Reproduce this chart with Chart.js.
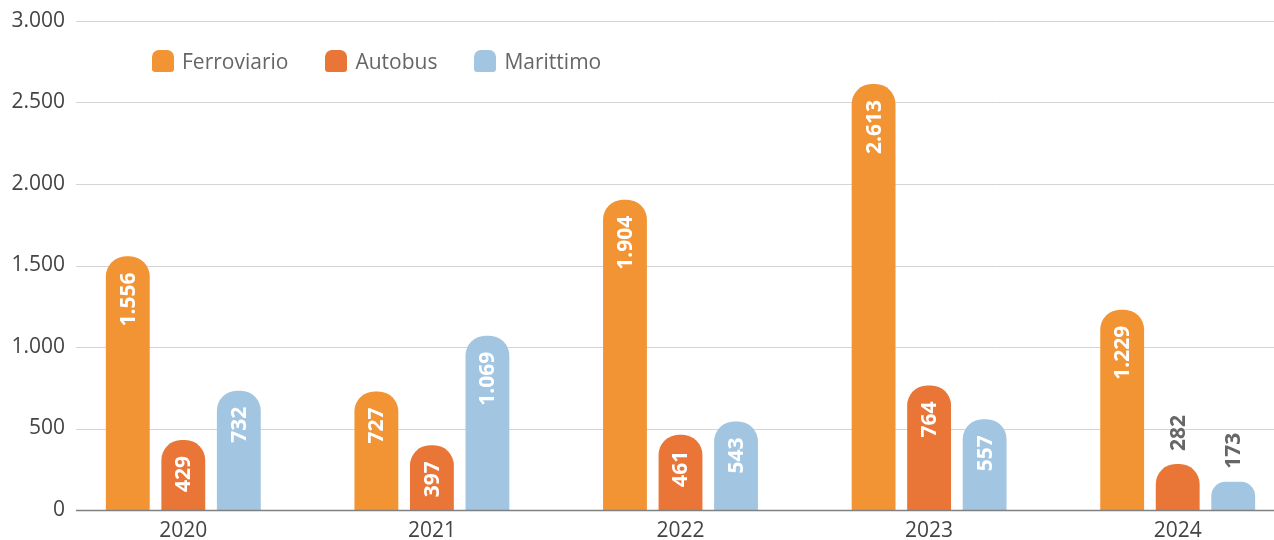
<!DOCTYPE html>
<html lang="it">
<head>
<meta charset="utf-8">
<script src="https://cdn.jsdelivr.net/npm/chart.js@4.4.1/dist/chart.umd.min.js"></script>
<style>
  html, body { margin:0; padding:0; background:#fff; overflow:hidden; }
  #wrap { position:relative; width:1302px; height:540px; }
  #legend { position:absolute; left:152px; top:47px; display:flex; align-items:center;
            font:21px "Open Sans", sans-serif; color:#666; }
  .item { display:flex; align-items:center; margin-right:37px; }
  .box { width:22px; height:22px; border-radius:7px 7px 3px 3px; margin-right:8px; }
</style>
</head>
<body>
<div id="wrap">
  <canvas id="chart" width="1302" height="540"></canvas>
  <div id="legend"></div>
</div>
<script>
  // data
  const years       = ['2020', '2021', '2022', '2023', '2024'];
  const ferroviario = [1556, 727, 1904, 2613, 1229];
  const autobus     = [429, 397, 461, 764, 282];
  const marittimo   = [732, 1069, 543, 557, 173];
  const yMax  = 3000;
  const yStep = 500;

  const colors = { ferro:'#F29434', bus:'#E97537', mare:'#A2C6E2' };

  function fmt(v) { return String(v).replace(/\B(?=(\d{3})+(?!\d))/g, '.'); }

  // grid lines start a bit right of the tick labels, axis line darker
  const gridLines = {
    id: 'gridLines',
    beforeDatasetsDraw(chart) {
      const { ctx, chartArea, scales: { y } } = chart;
      ctx.save();
      y.ticks.forEach(t => {
        if (t.value === 0) return;
        const py = Math.round(y.getPixelForValue(t.value)) + 0.5;
        ctx.beginPath();
        ctx.strokeStyle = '#d4d4d4';
        ctx.lineWidth = 1;
        ctx.moveTo(chartArea.left + 17, py);
        ctx.lineTo(chartArea.right, py);
        ctx.stroke();
      });
      ctx.restore();
    },
    afterDatasetsDraw(chart) {
      const { ctx, chartArea, scales: { y } } = chart;
      const py = Math.round(y.getPixelForValue(0)) + 0.5;
      ctx.save();
      ctx.beginPath();
      ctx.strokeStyle = '#808080';
      ctx.lineWidth = 1.5;
      ctx.moveTo(chartArea.left + 17, py);
      ctx.lineTo(chartArea.right, py);
      ctx.stroke();
      ctx.restore();
    }
  };

  // vertical value labels: inside the bar if it fits, else above it
  const barLabels = {
    id: 'barLabels',
    afterDatasetsDraw(chart) {
      const ctx = chart.ctx;
      ctx.save();
      ctx.font = 'bold 21px "Open Sans", sans-serif';
      ctx.textBaseline = 'middle';
      chart.data.datasets.forEach((ds, i) => {
        chart.getDatasetMeta(i).data.forEach((bar, j) => {
          const txt = fmt(ds.data[j]);
          const w = ctx.measureText(txt).width;
          const h = bar.base - bar.y;
          ctx.save();
          ctx.translate(bar.x, bar.y);
          ctx.rotate(-Math.PI / 2);
          if (h > w + 26) {
            ctx.fillStyle = '#fff';
            ctx.textAlign = 'right';
            ctx.fillText(txt, -16, 1);
          } else {
            ctx.fillStyle = '#666';
            ctx.textAlign = 'left';
            ctx.fillText(txt, 13, 1);
          }
          ctx.restore();
        });
      });
      ctx.restore();
    }
  };

  const barStyle = {
    barPercentage: 0.79,
    categoryPercentage: 0.67,
    borderRadius: { topLeft: 20, topRight: 20, bottomLeft: 0, bottomRight: 0 },
    borderSkipped: 'bottom'
  };

  const chart = new Chart(document.getElementById('chart'), {
    type: 'bar',
    data: {
      labels: years,
      datasets: [
        { label:'Ferroviario', data:ferroviario, backgroundColor:colors.ferro, ...barStyle },
        { label:'Autobus',     data:autobus,     backgroundColor:colors.bus,   ...barStyle },
        { label:'Marittimo',   data:marittimo,   backgroundColor:colors.mare,  ...barStyle }
      ]
    },
    options: {
      responsive: false,
      animation: false,
      devicePixelRatio: 1,
      layout: { padding: { top: 21, left: 0, right: 0, bottom: 0 } },
      plugins: { legend: { display:false }, tooltip: { enabled:false } },
      scales: {
        x: {
          grid: { display:false, drawTicks:false }, border: { display:false },
          ticks: { color:'#444', padding:8, font:{ family:'"Open Sans", sans-serif', size:21 } },
          afterFit(s) { s.height = 30; }
        },
        y: {
          min: 0, max: yMax,
          grid: { display:false, drawTicks:false }, border: { display:false },
          ticks: { stepSize:yStep, color:'#444', padding:-6, callback:v => fmt(v),
                   font:{ family:'"Open Sans", sans-serif', size:21 } },
          afterFit(s) {
            s.width = 59;
            // labels sit a few px past the axis box, so don't clip them to it
            s._computeLabelArea = () => undefined;
          }
        }
      }
    },
    plugins: [gridLines, barLabels]
  });

  // html legend built from the datasets
  const legend = document.getElementById('legend');
  chart.data.datasets.forEach(ds => {
    const item = document.createElement('div');
    item.className = 'item';
    const box = document.createElement('span');
    box.className = 'box';
    box.style.background = ds.backgroundColor;
    const label = document.createElement('span');
    label.textContent = ds.label;
    item.appendChild(box);
    item.appendChild(label);
    legend.appendChild(item);
  });
</script>
</body>
</html>
